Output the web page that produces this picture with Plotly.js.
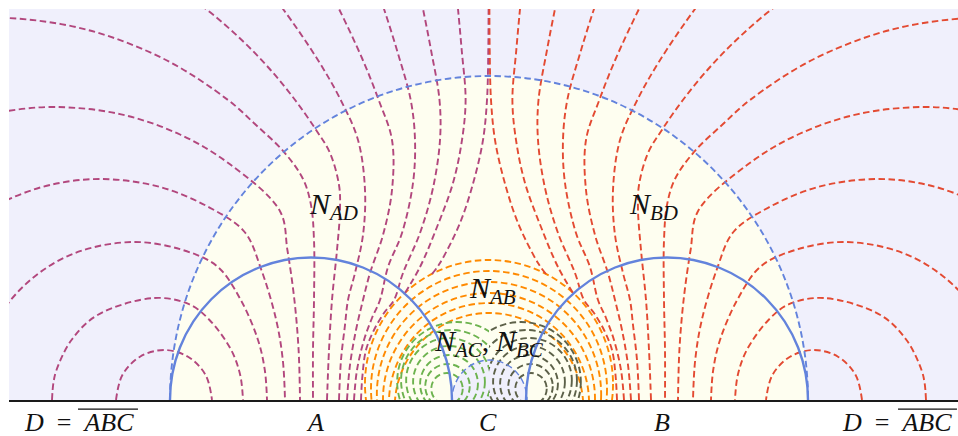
<!DOCTYPE html>
<html><head><meta charset="utf-8">
<script src="https://cdn.plot.ly/plotly-3.0.1.min.js"></script>
<style>html,body{margin:0;padding:0;background:#fff;}#chart{width:958px;height:436px;}</style>
</head><body><div id="chart"></div>
<script>
// ---- data (x along the boundary line, h = height above it) ----
// N_AD family (purple), each curve as a list of [x, h] points
const purpleCurves = [
 [[116,0],[122.4,25],[140,43.3],[164,50],[188,43.3],[205.6,25],[212,0]],
 [[52,0],[53.4,17],[56.5,30],[71.5,60],[97.6,85],[154,102],[189.5,95.6],[209.5,80],[231.2,50],[240.2,25],[243,0]],
 [[-10,67.2],[9,97.9],[40,127.7],[80,148.8],[133,158],[180,150.8],[216.9,133.9],[240.8,100],[258,60],[264.8,30],[267,0]],
 [[-20,184.9],[9,200.9],[50,215],[101,221],[160,213],[210,192.2],[244.6,168],[261.4,130],[276.2,80],[282.8,40],[285,0]],
 [[-30,280.1],[9,289.2],[56,293],[120,285.9],[180,265.5],[230,235.7],[279.9,189],[287.4,150],[294.4,100],[298.6,50],[300,0]],
 [[-60,379],[8,382],[88,370],[166,340],[228,300],[256,275],[284,248],[303,221],[311,195],[314,160],[314,100],[313,50],[313,0]],
 [[327,0],[329,50],[332,100],[337,150],[340,190],[339,215],[330,247],[316.1,270],[295.1,300],[270.6,330],[241.7,360],[206,391],[165.2,420]],
 [[339,0],[341,40],[345,75],[348,100],[355,127],[363,165],[365,210],[358,260],[340.7,300],[317.9,340],[283,391],[259.6,420]],
 [[347,0],[350,35],[356,70],[363,100],[370,127],[383,165],[392,210],[392,260],[378.7,300],[362.8,340],[339,391],[323.7,420]],
 [[354,0],[357,30],[364,60],[372,82],[380,100],[388,133],[402,167],[413,217],[415,260],[410.7,300],[397.8,347],[384,391],[373.7,420]],
 [[361,0],[362.5,25],[366,50],[374,70],[384,87],[394,100],[403,127],[420,167],[433,212],[440,260],[439.5,300],[431,350],[423,391],[416.8,420]],
 [[405,107],[420,133],[437,173],[453,217],[462,260],[465.6,300],[461.7,350],[458,391],[455.1,420]],
 [[432,126],[440,137],[460,177],[474,220],[483,260],[487,300],[488.3,350],[488.6,391],[488.8,420]]
];
// N_BD family (red)
const redCurves = [
 [[862,0],[855.6,25],[838,43.3],[814,50],[790,43.3],[772.4,25],[766,0]],
 [[926,0],[924.6,17],[921.5,30],[906.5,60],[880.4,85],[824,102],[788.5,95.6],[768.5,80],[746.8,50],[737.8,25],[735,0]],
 [[988,67.2],[969,97.9],[938,127.7],[898,148.8],[845,158],[798,150.8],[761.1,133.9],[737.2,100],[720,60],[713.2,30],[711,0]],
 [[998,184.9],[969,200.9],[928,215],[877,221],[818,213],[768,192.2],[733.4,168],[716.6,130],[701.8,80],[695.2,40],[693,0]],
 [[1008,280.1],[969,289.2],[922,293],[858,285.9],[798,265.5],[748,235.7],[698.1,189],[690.6,150],[683.6,100],[679.4,50],[678,0]],
 [[1038,379],[970,382],[890,370],[812,340],[750,300],[722,275],[694,248],[675,221],[667,195],[664,160],[664,100],[665,50],[665,0]],
 [[651,0],[649,50],[646,100],[641,150],[638,190],[639,215],[648,247],[661.9,270],[682.9,300],[707.4,330],[736.3,360],[772,391],[812.8,420]],
 [[639,0],[637,40],[633,75],[630,100],[623,127],[615,165],[613,210],[620,260],[637.3,300],[660.1,340],[695,391],[718.4,420]],
 [[631,0],[628,35],[622,70],[615,100],[608,127],[595,165],[586,210],[586,260],[599.3,300],[615.2,340],[639,391],[654.3,420]],
 [[624,0],[621,30],[614,60],[606,82],[598,100],[590,133],[576,167],[565,217],[563,260],[567.3,300],[580.2,347],[594,391],[604.3,420]],
 [[617,0],[615.5,25],[612,50],[604,70],[594,87],[584,100],[575,127],[558,167],[545,212],[538,260],[538.5,300],[547,350],[555,391],[561.2,420]],
 [[573,107],[558,133],[541,173],[525,217],[516,260],[512.4,300],[516.3,350],[520,391],[522.9,420]],
 [[546,126],[538,137],[518,177],[504,220],[495,260],[491,300],[489.7,350],[489.4,391],[489.2,420]]
];
// N_AB family (orange): arcs around C, foot on the left and peak height
const orangeCenter = 489;
const orangeLeft = [366, 371.5, 377, 383, 389, 395];
const orangePeak = [140, 129, 118, 107, 97, 87];
// N_AC family (green): left foot, right foot, peak height
const greenLeft  = [400, 405, 411, 418, 425, 430, 436];
const greenRight = [514, 498, 486, 480, 473, 465, 458];
const greenPeak  = [78, 70, 62, 54, 45, 36, 27];
// N_BC family (dark olive)
const blackLeft  = [464, 480, 492, 498, 505, 513, 520];
const blackRight = [578, 573, 567, 560, 553, 548, 542];
const blackPeak  = [78, 70, 62, 54, 45, 36, 27];
// boundary geodesics (feet and top height)
const geoNames = ['A', 'B', 'C', 'D'];
const geoLeft  = [170, 526, 452, 170];
const geoRight = [452, 808, 527, 808];
const geoTop   = [142.5, 142.5, 40, 324];
// labels
const regionText = ['<i>N</i><sub><i>AD</i></sub>', '<i>N</i><sub><i>BD</i></sub>', '<i>N</i><sub><i>AB</i></sub>', '<i>N</i><sub><i>AC</i></sub>,', '<i>N</i><sub><i>BC</i></sub>'];
const regionX = [333, 653, 492, 491, 493];
const regionH = [194, 194, 110, 57, 57];
const regionAnchor = ['center', 'center', 'center', 'right', 'left'];
const pointText = ['<i>D</i>\u2002=\u2002<i>ABC</i>', '<i>A</i>', '<i>C</i>', '<i>B</i>', '<i>D</i>\u2002=\u2002<i>ABC</i>'];
const pointX = [79, 315, 488, 662, 897];

// ---- styles ----
const LAV = '#f0f0fc', YEL = '#fefef0';
const PURPLE = '#b2477d', RED = '#e34a32', ORANGE = '#ff8a00', GREEN = '#6db34f', OLIVE = '#5d6149', BLUE = '#6383dc';
const DASH = '6.5px,3.5px';
const FONT = 'Liberation Serif, Times New Roman, serif';

const traces = [];
function addCurves(list, color) {
  list.forEach(c => traces.push({
    type: 'scatter', mode: 'lines', x: c.map(p => p[0]), y: c.map(p => p[1]),
    line: {color: color, width: 1.9, dash: DASH, shape: 'spline', smoothing: 1},
    hoverinfo: 'skip', showlegend: false
  }));
}
addCurves(purpleCurves, PURPLE);
addCurves(redCurves, RED);
// placeholders so the clipped helper subplots exist
traces.push({type:'scatter', mode:'markers', x:[300], y:[-50], xaxis:'x2', yaxis:'y2', marker:{opacity:0}, hoverinfo:'skip', showlegend:false});
traces.push({type:'scatter', mode:'markers', x:[600], y:[-50], xaxis:'x3', yaxis:'y3', marker:{opacity:0}, hoverinfo:'skip', showlegend:false});

const shapes = [];
shapes.push({type:'rect', xref:'x', yref:'y', x0:9, x1:958, y0:0, y1:391, fillcolor:LAV, line:{width:0}, layer:'below'});
// D region (yellow) and C region (lavender)
shapes.push({type:'circle', xref:'x', yref:'y', x0:geoLeft[3], x1:geoRight[3], y0:-geoTop[3], y1:geoTop[3], fillcolor:YEL, line:{width:0}, layer:'below'});
shapes.push({type:'circle', xref:'x', yref:'y', x0:geoLeft[2], x1:geoRight[2], y0:-geoTop[2], y1:geoTop[2], fillcolor:LAV, line:{width:0}, layer:'below'});

function arcCircle(L, R, P) {
  const cx = (L + R) / 2, w = (R - L) / 2;
  const k = (P * P - w * w) / (2 * P), r = P - k;
  return {x0: cx - r, x1: cx + r, y0: k - r, y1: k + r};
}
orangeLeft.forEach((L, i) => {
  const c = arcCircle(L, 2 * orangeCenter - L, orangePeak[i]);
  shapes.push(Object.assign({type:'circle', xref:'x', yref:'y', line:{color:ORANGE, width:1.9, dash:DASH}, layer:'below'}, c));
});
greenLeft.forEach((L, i) => {
  const c = arcCircle(L, greenRight[i], greenPeak[i]);
  shapes.push(Object.assign({type:'circle', xref:'x2', yref:'y2', line:{color:GREEN, width:1.9, dash:DASH}, layer:'below'}, c));
});
blackLeft.forEach((L, i) => {
  const c = arcCircle(L, blackRight[i], blackPeak[i]);
  shapes.push(Object.assign({type:'circle', xref:'x3', yref:'y3', line:{color:OLIVE, width:1.9, dash:DASH}, layer:'below'}, c));
});
// boundary geodesics on top
geoNames.forEach((n, i) => {
  const solid = (n === 'A' || n === 'B');
  shapes.push({type:'circle', xref:'x', yref:'y', x0:geoLeft[i], x1:geoRight[i], y0:-geoTop[i], y1:geoTop[i],
    line:{color:BLUE, width: solid ? 2.4 : (n === 'C' ? 1.4 : 1.9), dash: solid ? 'solid' : DASH}, layer:'above'});
});
// overlines of \overline{ABC}
[[0.0727, 0.1359], [0.9368, 0.9989]].forEach(p => shapes.push({type:'line', xref:'paper', yref:'paper', x0:p[0], x1:p[1], y0:-0.0235, y1:-0.0235, line:{color:'#111', width:1.3}, layer:'above'}));

const annotations = [];
regionText.forEach((t, i) => annotations.push({text:t, x:regionX[i], y:regionH[i], xref:'x', yref:'y', xanchor:regionAnchor[i], yanchor:'middle', showarrow:false, font:{family:FONT, size:30, color:'#111'}}));
pointText.forEach((t, i) => annotations.push({text:t, x:pointX[i], y:-0.0588, xref:'x', yref:'paper', xanchor:'center', yanchor:'middle', showarrow:false, font:{family:FONT, size:26, color:'#111'}}));

const hidden = {showgrid:false, zeroline:false, showticklabels:false, ticks:'', showline:false, fixedrange:true};
const layout = {
  width: 958, height: 436,
  margin: {l:9, r:0, t:9, b:36, pad:0},
  paper_bgcolor: '#ffffff', plot_bgcolor: 'rgba(0,0,0,0)',
  showlegend: false, hovermode: false,
  xaxis: Object.assign({}, hidden, {domain:[0,1], range:[9,958], showline:true, linecolor:'#1a1a1a', linewidth:2}),
  yaxis: Object.assign({}, hidden, {domain:[0,1], range:[0,391]}),
  xaxis2: Object.assign({}, hidden, {domain:[0, 480/949], range:[9,489], anchor:'y2'}),
  yaxis2: Object.assign({}, hidden, {domain:[0,1], range:[0,391], anchor:'x2'}),
  xaxis3: Object.assign({}, hidden, {domain:[480/949, 1], range:[489,958], anchor:'y3'}),
  yaxis3: Object.assign({}, hidden, {domain:[0,1], range:[0,391], anchor:'x3'}),
  shapes: shapes,
  annotations: annotations
};
Plotly.newPlot('chart', traces, layout, {staticPlot:true, displayModeBar:false});
</script></body></html>
